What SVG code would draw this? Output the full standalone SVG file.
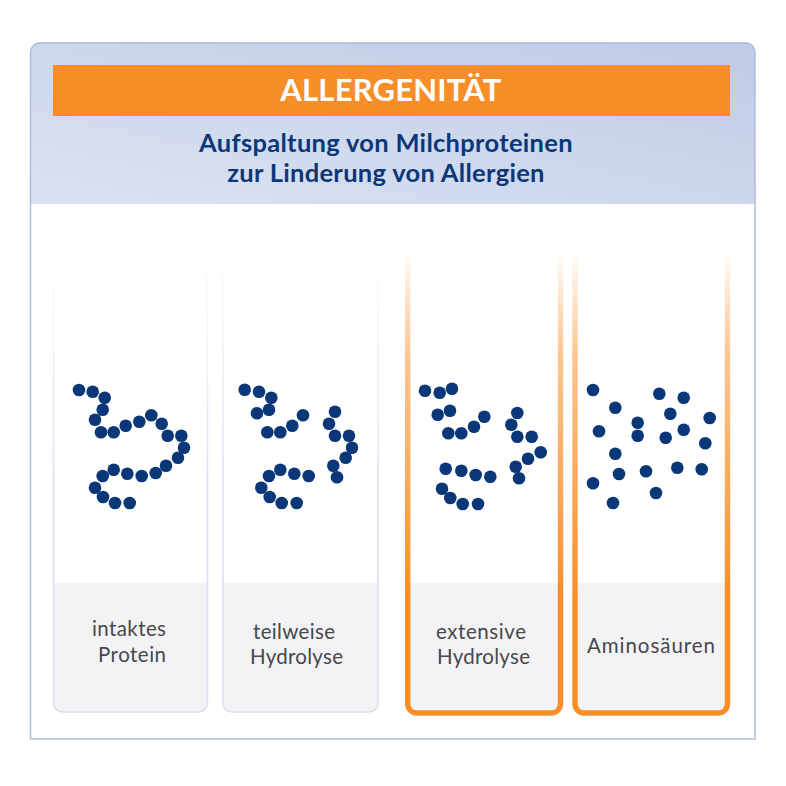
<svg xmlns="http://www.w3.org/2000/svg" width="786" height="786" viewBox="0 0 786 786">
<style>
.body{font-family:"Lato","Liberation Sans",sans-serif;font-size:20.500px;fill:#47474c}
.sub{font-family:"Lato","Liberation Sans",sans-serif;font-size:25.500px;font-weight:700;fill:#0a3778;text-anchor:middle;letter-spacing:.3px}
.title{font-family:"Lato","Liberation Sans",sans-serif;font-size:31px;font-weight:700;fill:#fff;text-anchor:middle;letter-spacing:.2px}
.grey{fill:#f3f3f5}
.thin{fill:none;stroke:url(#fadeLight);stroke-width:1.5}
.thick{fill:none;stroke:url(#fadeOrange);stroke-width:5.4}
.dots circle{fill:#0a3778}
</style>
<defs>
<linearGradient id="head" x1="0" y1="1" x2="1" y2="0">
<stop offset="0" stop-color="#dbe3f3"/><stop offset="1" stop-color="#bfcbe6"/>
</linearGradient>
<linearGradient id="fadeLight" gradientUnits="userSpaceOnUse" x1="0" y1="245" x2="0" y2="480">
<stop offset="0" stop-color="#dde0f0" stop-opacity="0"/><stop offset="1" stop-color="#dde0f0"/>
</linearGradient>
<linearGradient id="fadeOrange" gradientUnits="userSpaceOnUse" x1="0" y1="248" x2="0" y2="600">
<stop offset="0" stop-color="#f78e28" stop-opacity="0"/><stop offset=".3" stop-color="#f78e28" stop-opacity=".5"/><stop offset="1" stop-color="#f78e28"/>
</linearGradient>
</defs>
<rect width="786" height="786" fill="#fff"/>

<g id="frame">
<path d="M30.500 204V52a9 9 0 0 1 9-9H746a9 9 0 0 1 9 9V204Z" fill="url(#head)"/>
<path d="M30.500 204V52a9 9 0 0 1 9-9H746a9 9 0 0 1 9 9V204" fill="none" stroke="#a9b6d8" stroke-width="1.300"/>
<path d="M30.500 204V739H755V204" fill="none" stroke="#b4bcdc" stroke-width="1.500"/>
</g>

<g id="header">
<rect x="53" y="65" width="677" height="51" fill="#f78e28"/>
<text class="title" x="391" y="101">ALLERGENITÄT</text>
<text class="sub" x="386" y="152">Aufspaltung von Milchproteinen</text>
<text class="sub" x="386" y="182">zur Linderung von Allergien</text>
</g>

<g id="card-intact">
<path class="grey" d="M53.500 583H207.500V703a9 9 0 0 1-9 9H62.500a9 9 0 0 1-9-9Z"/>
<path class="thin" d="M53.500 245V703a9 9 0 0 0 9 9H198.500a9 9 0 0 0 9-9V245"/>
<g class="dots">
<circle cx="79" cy="390" r="6.300"/><circle cx="92.700" cy="391.700" r="6.300"/><circle cx="104.700" cy="397.700" r="6.300"/><circle cx="102.700" cy="409.700" r="6.300"/><circle cx="95" cy="419.700" r="6.300"/><circle cx="101" cy="432.300" r="6.300"/><circle cx="113.700" cy="432.300" r="6.300"/><circle cx="125.700" cy="425.700" r="6.300"/><circle cx="139.300" cy="421.700" r="6.300"/><circle cx="151.300" cy="415.300" r="6.300"/><circle cx="161.700" cy="423.700" r="6.300"/><circle cx="167.700" cy="435.700" r="6.300"/><circle cx="181.300" cy="435.700" r="6.300"/><circle cx="184" cy="447.700" r="6.300"/><circle cx="178" cy="457.700" r="6.300"/><circle cx="166" cy="465.700" r="6.300"/><circle cx="155.700" cy="473" r="6.300"/><circle cx="141.700" cy="476" r="6.300"/><circle cx="127.300" cy="473.700" r="6.300"/><circle cx="113.700" cy="469.700" r="6.300"/><circle cx="102.700" cy="476" r="6.300"/><circle cx="95" cy="487.700" r="6.300"/><circle cx="103" cy="497" r="6.300"/><circle cx="115" cy="503" r="6.300"/><circle cx="129.700" cy="503" r="6.300"/>
</g>
<text class="body" x="92" y="636" textLength="74">intaktes</text>
<text class="body" x="98" y="662" textLength="68">Protein</text>
</g>

<g id="card-partial">
<path class="grey" d="M223 583H378V703a9 9 0 0 1-9 9H232a9 9 0 0 1-9-9Z"/>
<path class="thin" d="M223 245V703a9 9 0 0 0 9 9H369a9 9 0 0 0 9-9V245"/>
<g class="dots">
<circle cx="244.700" cy="389.700" r="6.300"/><circle cx="259" cy="391.700" r="6.300"/><circle cx="271.300" cy="397.700" r="6.300"/><circle cx="269" cy="409.700" r="6.300"/><circle cx="257" cy="413.300" r="6.300"/><circle cx="303" cy="415.300" r="6.300"/><circle cx="292.300" cy="425.700" r="6.300"/><circle cx="280.300" cy="432.300" r="6.300"/><circle cx="267.300" cy="432.300" r="6.300"/><circle cx="335" cy="411.700" r="6.300"/><circle cx="329" cy="423.700" r="6.300"/><circle cx="335" cy="435.700" r="6.300"/><circle cx="349" cy="435.700" r="6.300"/><circle cx="352" cy="447.700" r="6.300"/><circle cx="345.700" cy="457.700" r="6.300"/><circle cx="333.300" cy="465.700" r="6.300"/><circle cx="337" cy="477.300" r="6.300"/><circle cx="308.700" cy="476" r="6.300"/><circle cx="294.300" cy="473.700" r="6.300"/><circle cx="280.300" cy="469.700" r="6.300"/><circle cx="269" cy="476" r="6.300"/><circle cx="261.300" cy="487.700" r="6.300"/><circle cx="269.700" cy="497" r="6.300"/><circle cx="281.700" cy="503" r="6.300"/><circle cx="296.700" cy="503" r="6.300"/>
</g>
<text class="body" x="253" y="639" textLength="82">teilweise</text>
<text class="body" x="250" y="664" textLength="93">Hydrolyse</text>
</g>

<g id="card-extensive">
<path class="grey" d="M408 583H560.500V705a8 8 0 0 1-8 8H416a8 8 0 0 1-8-8Z"/>
<path class="thick" d="M407.700 248V704a9 9 0 0 0 9 9H551.500a9 9 0 0 0 9-9V254"/>
<g class="dots">
<circle cx="425" cy="390.700" r="6.300"/><circle cx="439.700" cy="392.700" r="6.300"/><circle cx="452" cy="388.700" r="6.300"/><circle cx="437.700" cy="414.700" r="6.300"/><circle cx="450" cy="410.700" r="6.300"/><circle cx="484.300" cy="416.700" r="6.300"/><circle cx="474" cy="426.700" r="6.300"/><circle cx="461.300" cy="433.300" r="6.300"/><circle cx="448.300" cy="433.300" r="6.300"/><circle cx="517.300" cy="413" r="6.300"/><circle cx="511.300" cy="424.700" r="6.300"/><circle cx="517.300" cy="436.700" r="6.300"/><circle cx="531.700" cy="436.700" r="6.300"/><circle cx="540.700" cy="452.300" r="6.300"/><circle cx="528" cy="458.700" r="6.300"/><circle cx="515.700" cy="466.700" r="6.300"/><circle cx="519" cy="478.300" r="6.300"/><circle cx="490.300" cy="476.700" r="6.300"/><circle cx="475.700" cy="475" r="6.300"/><circle cx="461.300" cy="470.700" r="6.300"/><circle cx="445.700" cy="468.700" r="6.300"/><circle cx="442" cy="488.700" r="6.300"/><circle cx="450.300" cy="498" r="6.300"/><circle cx="462.700" cy="504" r="6.300"/><circle cx="478" cy="504" r="6.300"/>
</g>
<text class="body" x="436" y="639" textLength="90">extensive</text>
<text class="body" x="437" y="664" textLength="93">Hydrolyse</text>
</g>

<g id="card-amino">
<path class="grey" d="M575 583H727.500V705a8 8 0 0 1-8 8H583a8 8 0 0 1-8-8Z"/>
<path class="thick" d="M575 248V704a9 9 0 0 0 9 9H718.500a9 9 0 0 0 9-9V254"/>
<g class="dots">
<circle cx="593" cy="390" r="6.300"/><circle cx="659.300" cy="393.700" r="6.300"/><circle cx="683.700" cy="397.700" r="6.300"/><circle cx="615.300" cy="407.700" r="6.300"/><circle cx="670.300" cy="413.700" r="6.300"/><circle cx="709.700" cy="418" r="6.300"/><circle cx="637.700" cy="422.700" r="6.300"/><circle cx="599" cy="431.300" r="6.300"/><circle cx="637.700" cy="435.700" r="6.300"/><circle cx="665.700" cy="437.700" r="6.300"/><circle cx="683.700" cy="429.700" r="6.300"/><circle cx="705.300" cy="443.300" r="6.300"/><circle cx="615.300" cy="453.700" r="6.300"/><circle cx="619" cy="474" r="6.300"/><circle cx="646" cy="471.300" r="6.300"/><circle cx="677.300" cy="467.700" r="6.300"/><circle cx="701.700" cy="469.300" r="6.300"/><circle cx="593" cy="483.300" r="6.300"/><circle cx="656" cy="493" r="6.300"/><circle cx="613" cy="503" r="6.300"/>
</g>
<text class="body" x="587" y="653" textLength="128">Aminosäuren</text>
</g>
</svg>
